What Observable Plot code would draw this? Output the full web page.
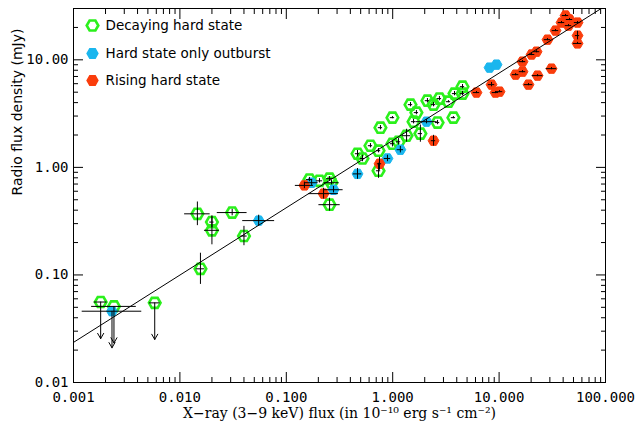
<!DOCTYPE html>
<html><head><meta charset="utf-8">
<script src="https://cdn.jsdelivr.net/npm/d3@7"></script>
<script src="https://cdn.jsdelivr.net/npm/@observablehq/plot@0.6"></script>
<style>body{margin:0;background:#fff} #chart{width:639px;height:424px}</style>
</head><body><div id="chart"></div>
<script>
// ---- Data ----
// Decaying hard state (open green hexagons)
const decX  = [0.0018,0.0024,0.0058,0.0146,0.020,0.020,0.031,0.040,0.0156,0.165,0.205,0.255,0.266,0.255,0.467,0.52,0.618,0.767,0.995,0.736,0.995,0.736,1.135,1.35,1.82,1.47,1.67,2.12,2.42,2.75,3.34,3.81,4.53,4.53,3.72,2.64,1.57];
const decY  = [0.056,0.051,0.055,0.37,0.31,0.26,0.38,0.23,0.114,0.77,0.75,0.785,0.72,0.45,1.34,1.21,1.59,2.34,2.90,1.43,1.66,0.93,1.73,1.97,2.06,3.83,3.23,4.17,3.83,4.36,4.08,4.85,5.63,4.85,2.90,2.61,2.66];
const decEx = [0.06,0.21,0.05,0.12,0.02,0.07,0.14,0.03,0.04,0.03,0.03,0.03,0.07,0.10,0.02,0.02,0.02,0.02,0.02,0.02,0.02,0.02,0.02,0.04,0.02,0.02,0.02,0.02,0.02,0.02,0.02,0.02,0.02,0.02,0.02,0.02,0.02];
const decEy = [0,0,0,0.11,0.05,0.135,0.03,0.09,0.145,0.02,0.02,0.02,0.02,0.06,0.03,0.03,0.02,0.02,0.01,0.02,0.03,0.07,0.03,0.06,0.08,0.02,0.02,0.02,0.02,0.02,0.01,0.02,0.02,0.02,0.01,0.02,0.02];
const decUL = [0,1,2];
// Hard state only outburst (filled blue hexagons)
const hsoX  = [0.0023,0.055,0.173,0.278,0.467,0.893,1.18,2.08,8.13,9.46];
const hsoY  = [0.046,0.32,0.72,0.62,0.87,1.21,1.46,2.66,8.46,9.02];
const hsoEx = [0.28,0.15,0.06,0.09,0.04,0.03,0.03,0.10,0,0];
const hsoEy = [0,0.05,0.03,0.03,0.05,0.03,0.03,0.02,0,0];
const hsoUL = [0];
// Rising hard state (filled red hexagons)
const risX  = [0.148,0.224,0.752,2.42,6.13,8.49,9.25,10.1,14.3,16.6,16.6,18.9,20.2,22.5,23.0,31.1,28.5,33.9,38.6,42.1,45.9,44.9,54.6,54.6,54.6];
const risY  = [0.68,0.57,1.08,1.77,4.96,5.88,4.96,5.06,7.28,7.76,9.62,5.88,11.2,11.9,7.13,8.28,15.4,18.7,22.2,25.8,23.7,20.8,22.2,16.8,14.2];
const risEx = [0.085,0.14,0.02,0.02,0.03,0.03,0.03,0.03,0.03,0.03,0.03,0.04,0.03,0.03,0.05,0.05,0.03,0.03,0.03,0.03,0.03,0.03,0.03,0.02,0.04];
const risEy = [0.03,0.05,0.06,0.05,0.01,0.02,0.01,0.01,0.01,0.01,0.01,0.01,0.01,0.01,0.01,0.01,0.01,0.01,0.01,0.01,0.01,0.01,0.01,0.04,0.01];
const risUL = [];
// Fitted correlation line (end points)
const fitX = [0.001, 100];
const fitY = [0.0236, 31.8];
// Labels and ticks
const legendLabels = ["Decaying hard state", "Hard state only outburst", "Rising hard state"];
const xTicks = [0.001, 0.01, 0.1, 1, 10, 100];
const xTickLabels = ["0.001", "0.010", "0.100", "1.000", "10.000", "100.000"];
const yTicks = [0.01, 0.1, 1, 10];
const yTickLabels = ["0.01", "0.10", "1.00", "10.00"];
const xTitle = "X\u2212ray (3\u22129 keV) flux (in 10\u207B\u00B9\u2070 erg s\u207B\u00B9 cm\u207B\u00B2)";
const yTitle = "Radio flux density (mJy)";

// ---- Styles ----
const GREEN = "#2bf01c", BLUE = "#1ab6ee", RED = "#fa3d0c";
const hexFlat = {
  draw(ctx, size) {
    const r = Math.sqrt(size / Math.PI);
    for (let i = 0; i < 6; i++) {
      const a = i * Math.PI / 3, px = r * Math.cos(a), py = r * Math.sin(a);
      i ? ctx.lineTo(px, py) : ctx.moveTo(px, py);
    }
    ctx.closePath();
  }
};
const mk = (X, Y, EX, EY, UL) => X.map((x, i) => ({x, y: Y[i], ex: EX[i], ey: EY[i], ul: UL.includes(i)}));
const dec = mk(decX, decY, decEx, decEy, decUL);
const hso = mk(hsoX, hsoY, hsoEx, hsoEy, hsoUL);
const ris = mk(risX, risY, risEx, risEy, risUL);
const all = [...dec, ...hso, ...ris];
const fit = fitX.map((x, i) => ({x, y: fitY[i]}));

const minor = (lo, hi) => { const out = []; for (let e = lo; e < hi; e++) for (let m = 2; m <= 9; m++) out.push(m * 10 ** e); return out; };
const xMinor = minor(-3, 2);
const yMinor = minor(-2, 1).concat([20, 30]);
const none = () => "";
const TICKFONT = {fontFamily: "DejaVu Sans Mono", fontSize: 14};

const chart = Plot.plot({
  width: 639, height: 424,
  marginLeft: 73, marginRight: 34, marginTop: 8, marginBottom: 42,
  style: {background: "#fff", color: "#000", fontFamily: "DejaVu Sans"},
  x: {type: "log", domain: [0.001, 100]},
  y: {type: "log", domain: [0.01, 30]},
  marks: [
    // ticks (inward, all four sides)
    Plot.axisX({ticks: xTicks, tickSize: -10, tickFormat: none, label: null}),
    Plot.axisX({ticks: xMinor, tickSize: -5, tickFormat: none, label: null}),
    Plot.axisX({anchor: "top", ticks: xTicks, tickSize: -10, tickFormat: none, label: null}),
    Plot.axisX({anchor: "top", ticks: xMinor, tickSize: -5, tickFormat: none, label: null}),
    Plot.axisY({ticks: yTicks, tickSize: -10, tickFormat: none, label: null}),
    Plot.axisY({ticks: yMinor, tickSize: -5, tickFormat: none, label: null}),
    Plot.axisY({anchor: "right", ticks: yTicks, tickSize: -10, tickFormat: none, label: null}),
    Plot.axisY({anchor: "right", ticks: yMinor, tickSize: -5, tickFormat: none, label: null}),
    // tick labels
    Plot.axisX({ticks: xTicks, tickSize: 0, tickPadding: 10, tickFormat: d => xTickLabels[xTicks.indexOf(d)], label: null, ...TICKFONT}),
    Plot.axisY({ticks: yTicks, tickSize: 0, tickPadding: 5, tickFormat: d => yTickLabels[yTicks.indexOf(d)], label: null, ...TICKFONT}),
    Plot.frame({stroke: "#000"}),
    // titles
    Plot.text([xTitle], {text: d => d, frameAnchor: "bottom", lineAnchor: "middle", dy: 31, fontFamily: "DejaVu Serif", fontSize: 14, fill: "#000"}),
    Plot.text([yTitle], {text: d => d, frameAnchor: "left", lineAnchor: "middle", dx: -56, rotate: -90, fontFamily: "DejaVu Sans", fontSize: 14, fill: "#000"}),
    // points
    Plot.dot(dec, {x: "x", y: "y", r: 5.8, symbol: hexFlat, stroke: GREEN, strokeWidth: 2.6, fill: "none"}),
    Plot.dot(hso, {x: "x", y: "y", r: 5.4, symbol: hexFlat, fill: BLUE, stroke: BLUE, strokeWidth: 1}),
    Plot.dot(ris, {x: "x", y: "y", r: 5.4, symbol: hexFlat, fill: RED, stroke: RED, strokeWidth: 1}),
    // error bars
    Plot.ruleY(all.filter(d => d.ex > 0), {y: "y", x1: d => d.x / 10 ** d.ex, x2: d => d.x * 10 ** d.ex, stroke: "#000", strokeWidth: 1}),
    Plot.ruleX(all.filter(d => d.ey > 0), {x: "x", y1: d => d.y / 10 ** d.ey, y2: d => d.y * 10 ** d.ey, stroke: "#000", strokeWidth: 1}),
    // upper limits
    Plot.arrow(all.filter(d => d.ul), {x1: "x", y1: "y", x2: "x", y2: d => d.y / 10 ** 0.34, stroke: "#000", strokeWidth: 1, headLength: 9}),
    // fit
    Plot.line(fit, {x: "x", y: "y", stroke: "#000", strokeWidth: 1, clip: true}),
    // legend
    Plot.dot([0], {frameAnchor: "top-left", dx: 19, dy: 17, r: 5.8, symbol: hexFlat, stroke: GREEN, strokeWidth: 2.6, fill: "none"}),
    Plot.dot([0], {frameAnchor: "top-left", dx: 19, dy: 45, r: 5.4, symbol: hexFlat, fill: BLUE, stroke: BLUE}),
    Plot.dot([0], {frameAnchor: "top-left", dx: 19, dy: 72, r: 5.4, symbol: hexFlat, fill: RED, stroke: RED}),
    Plot.text([legendLabels[0]], {text: d => d, frameAnchor: "top-left", lineAnchor: "middle", dx: 32, dy: 17, textAnchor: "start", fontFamily: "DejaVu Sans", fontSize: 13.5, fill: "#000"}),
    Plot.text([legendLabels[1]], {text: d => d, frameAnchor: "top-left", lineAnchor: "middle", dx: 32, dy: 45, textAnchor: "start", fontFamily: "DejaVu Sans", fontSize: 13.5, fill: "#000"}),
    Plot.text([legendLabels[2]], {text: d => d, frameAnchor: "top-left", lineAnchor: "middle", dx: 32, dy: 72, textAnchor: "start", fontFamily: "DejaVu Sans", fontSize: 13.5, fill: "#000"})
  ]
});
document.getElementById("chart").append(chart);
</script></body></html>
